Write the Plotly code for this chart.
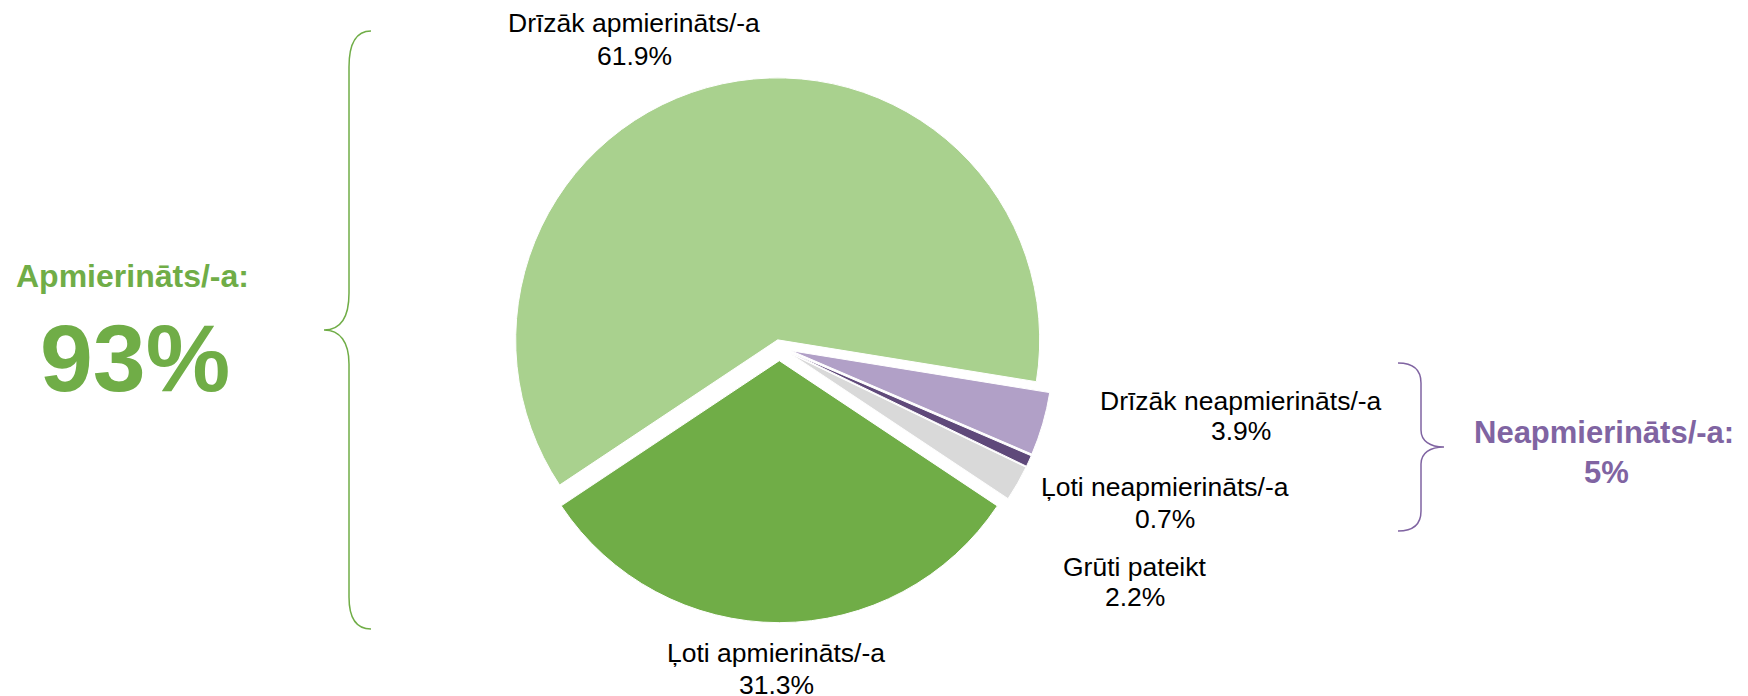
import plotly.graph_objects as go

# The page body has an 8px margin, so the figure is offset by 8px; the figure
# is sized to reach the window's right/bottom edges, and every screen-pixel
# position below is converted into figure paper units.
SCREEN_W, SCREEN_H = 1748, 696
BODY = 8
W, H = SCREEN_W - BODY, SCREEN_H - BODY

# ---- data ----
categories = ["Drīzāk apmierināts/-a", "Drīzāk neapmierināts/-a",
              "Ļoti neapmierināts/-a", "Grūti pateikt", "Ļoti apmierināts/-a"]
values = [61.9, 3.9, 0.7, 2.2, 31.3]
colors = ["#A9D18E", "#B1A0C7", "#5F497A", "#D9D9D9", "#70AD47"]
pulls = [0.029, 0.047, 0.047, 0.047, 0.051]

group_titles = ["Apmierināts/-a:", "Neapmierināts/-a:"]
group_values = ["93%", "5%"]
group_colors = ["#70AD47", "#8064A2"]

# label positions in screen pixels: (centre x, line-1 centre y, line-2 centre y)
label_pos = [(634, 23, 55.7), (1241, 400.7, 430.7), (1165, 487.4, 519),
             (1135, 566.7, 597.4), (776, 653.4, 684.7)]

FONT = "Liberation Sans, Arial, sans-serif"


def px(x):
    return (x - BODY) / W


def py(y):
    return 1 - (y - BODY) / H


# pie geometry (screen pixels)
cx, cy, r = 779.3, 347.3, 262
half = r * (1 + max(pulls))

fig = go.Figure()
fig.add_trace(go.Pie(
    labels=categories,
    values=values,
    sort=False,
    direction="clockwise",
    rotation=236.35,
    pull=pulls,
    marker=dict(colors=colors, line=dict(color="white", width=1)),
    textinfo="none",
    hoverinfo="label+percent",
    showlegend=False,
    domain=dict(x=[px(cx - half), px(cx + half)],
                y=[py(cy + half), py(cy - half)]),
))

annotations = []
for cat, val, (lx, ly1, ly2) in zip(categories, values, label_pos):
    annotations.append(dict(
        x=px(lx), y=py(ly1), xref="paper", yref="paper",
        xanchor="center", yanchor="middle", showarrow=False,
        text=cat, font=dict(family=FONT, size=26.5, color="#000000"),
    ))
    annotations.append(dict(
        x=px(lx), y=py(ly2), xref="paper", yref="paper",
        xanchor="center", yanchor="middle", showarrow=False,
        text=f"{val:.1f}%", font=dict(family=FONT, size=26.5, color="#000000"),
    ))

# group summaries
annotations += [
    dict(x=px(132), y=py(276), xref="paper", yref="paper", showarrow=False,
         xanchor="center", yanchor="middle", text=f"<b>{group_titles[0]}</b>",
         font=dict(family=FONT, size=32, color=group_colors[0])),
    dict(x=px(135), y=py(358), xref="paper", yref="paper", showarrow=False,
         xanchor="center", yanchor="middle", text=f"<b>{group_values[0]}</b>",
         font=dict(family=FONT, size=95, color=group_colors[0])),
    dict(x=px(1604), y=py(432.5), xref="paper", yref="paper", showarrow=False,
         xanchor="center", yanchor="middle", text=f"<b>{group_titles[1]}</b>",
         font=dict(family=FONT, size=31, color=group_colors[1])),
    dict(x=px(1606), y=py(472), xref="paper", yref="paper", showarrow=False,
         xanchor="center", yanchor="middle", text=f"<b>{group_values[1]}</b>",
         font=dict(family=FONT, size=31, color=group_colors[1])),
]


def brace(pts):
    out = []
    for cmd, coords in pts:
        c = " ".join(f"{px(x):.5f},{py(y):.5f}" for x, y in coords)
        out.append(f"{cmd}{c}")
    return " ".join(out)


green_brace = brace([
    ("M", [(371, 31)]),
    ("C", [(355, 31), (349, 45), (349, 67)]),
    ("L", [(349, 293)]),
    ("C", [(349, 318), (340, 330), (324, 330)]),
    ("C", [(340, 330), (349, 342), (349, 364)]),
    ("L", [(349, 597)]),
    ("C", [(349, 617), (355, 629), (371, 629)]),
])
purple_brace = brace([
    ("M", [(1398, 363)]),
    ("C", [(1414, 363), (1421, 370), (1421, 383)]),
    ("L", [(1421, 430)]),
    ("C", [(1421, 441), (1430, 447), (1444, 447)]),
    ("C", [(1430, 447), (1421, 453), (1421, 464)]),
    ("L", [(1421, 511)]),
    ("C", [(1421, 524), (1414, 531), (1398, 531)]),
])

shapes = [
    dict(type="path", xref="paper", yref="paper", path=green_brace,
         line=dict(color=group_colors[0], width=1.5)),
    dict(type="path", xref="paper", yref="paper", path=purple_brace,
         line=dict(color=group_colors[1], width=1.5)),
]

fig.update_layout(
    width=W, height=H,
    margin=dict(l=0, r=0, t=0, b=0),
    paper_bgcolor="white", plot_bgcolor="white",
    annotations=annotations, shapes=shapes,
    font=dict(family=FONT),
)

fig.write_html("out.html")
